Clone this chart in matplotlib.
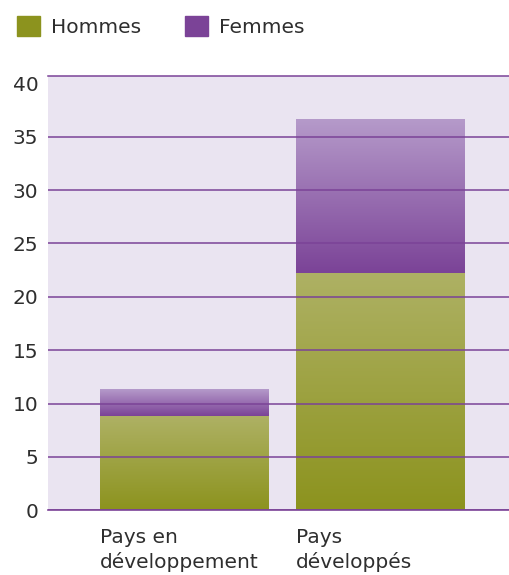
import numpy as np
import matplotlib
matplotlib.use('Agg')
import matplotlib.pyplot as plt
from matplotlib.colors import LinearSegmentedColormap
from matplotlib.patches import Patch

# Données
categories = ['Pays en\ndéveloppement', 'Pays\ndéveloppés']
hommes = [8.8, 22.2]
femmes = [2.45, 14.4]
yticks = [0, 5, 10, 15, 20, 25, 30, 35, 40]

# Couleurs
violet = '#7B4397'
olive = '#8C931E'
fond = '#EAE4F1'
texte = '#2E2E2E'
cmap_h = LinearSegmentedColormap.from_list('h', ['#8C931E', '#AEB164'])
cmap_f = LinearSegmentedColormap.from_list('f', ['#7B4397', '#B59ACA'])

plt.rcParams['font.family'] = ['DejaVu Sans']
fs = 14.5

fig = plt.figure(figsize=(5.09, 5.75), dpi=100)
ax = fig.add_axes([0.0943, 0.1125, 0.9057, 0.7559])
ax.set_facecolor(fond)

x = np.arange(len(categories))
bar_w = 0.86
b1 = ax.bar(x, hommes, width=bar_w, color=olive, zorder=1)
b2 = ax.bar(x, femmes, width=bar_w, bottom=hommes, color=violet, zorder=1)

# dégradé vertical dans chaque segment
grad = np.linspace(0, 1, 256).reshape(-1, 1)
for bars, cm in [(b1, cmap_h), (b2, cmap_f)]:
    for r in bars:
        x0, y0 = r.get_x(), r.get_y()
        ax.imshow(grad, extent=[x0, x0 + r.get_width(), y0, y0 + r.get_height()],
                  origin='lower', aspect='auto', cmap=cm, zorder=1.5)

ax.set_xlim(-0.696, 1.662)
ax.set_ylim(0, 40.72)

# grille au-dessus des barres
ax.set_axisbelow(False)
ax.set_yticks(yticks)
ax.yaxis.grid(True, color=violet, linewidth=1.1)
ax.yaxis.get_gridlines()[-1].set_visible(False)
ax.tick_params(axis='y', length=0, pad=7, labelsize=fs, labelcolor=texte)
ax.set_xticks(x - bar_w / 2, categories, ha='left', linespacing=1.3)
ax.tick_params(axis='x', length=0, pad=13, labelsize=fs, labelcolor=texte)

for s in ['left', 'right']:
    ax.spines[s].set_visible(False)
ax.spines['top'].set_color(violet)
ax.spines['bottom'].set_color(violet)
ax.spines['top'].set_linewidth(1.1)
ax.spines['bottom'].set_linewidth(1.2)

handles = [Patch(color=olive, label='Hommes'), Patch(color=violet, label='Femmes')]
fig.legend(handles=handles, loc='center left', bbox_to_anchor=(0.0334, 0.954),
           ncol=2, frameon=False, fontsize=fs, handlelength=1.13, handleheight=1.13,
           handletextpad=0.55, columnspacing=2.2, borderpad=0, borderaxespad=0,
           labelcolor=texte)

fig.savefig('out.png', dpi=100)
